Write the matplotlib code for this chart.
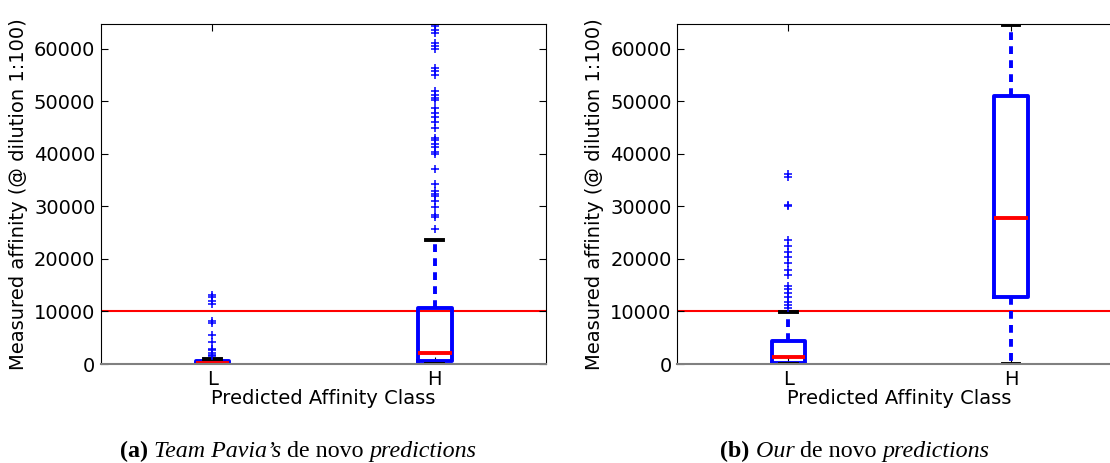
import matplotlib
matplotlib.use("Agg")
import matplotlib.pyplot as plt

# --- Data (measured affinity, dilution 1:100) ---
CLASSES = ["L", "H"]
THRESHOLD = 10000
Y_MAX = 64700

# (a) Team Pavia's predictions
pavia_med = [190, 2160]
pavia_q1 = [0, 570]
pavia_q3 = [510, 10670]
pavia_wlo = [0, 0]
pavia_whi = [1020, 23680]
pavia_fliers_L = [13200, 12760, 11940, 11490, 8130, 7810, 5460, 4190,
                  2920, 2600, 2160, 1780, 1460]
pavia_fliers_H = [64310, 63680, 63110, 61140, 60570, 60060, 56380, 55740,
                  54980, 52000, 51300, 50730, 50350, 48830, 47870, 47050,
                  46100, 45010, 43050, 42600, 41970, 41330, 40380, 40060,
                  37140, 34350, 32950, 32450, 31940, 31050, 29900, 28440,
                  28000, 25780]

# (b) our predictions
our_med = [1400, 27870]
our_q1 = [250, 12830]
our_q3 = [4320, 51050]
our_wlo = [0, 0]
our_whi = [9900, 64500]
our_fliers_L = [36250, 35620, 30220, 30030, 23550, 22410, 21330, 20380,
                19240, 17970, 16890, 14790, 14350, 13520, 12760, 11810,
                11170, 10730]
our_fliers_H = []

FS = 14


def make_stats(med, q1, q3, wlo, whi, fliers):
    stats = []
    for i in range(len(med)):
        stats.append(dict(med=med[i], q1=q1[i], q3=q3[i], whislo=wlo[i],
                          whishi=whi[i], fliers=fliers[i], label=CLASSES[i]))
    return stats


def draw_panel(ax, stats):
    ax.bxp(stats, positions=[1, 2], widths=0.15, showfliers=True,
           boxprops=dict(color="blue", linewidth=2.8),
           medianprops=dict(color="red", linewidth=2.8),
           whiskerprops=dict(color="blue", linewidth=2.8, linestyle=(0, (2.0, 1.6))),
           capprops=dict(color="black", linewidth=2.8),
           flierprops=dict(marker="+", markeredgecolor="blue", markersize=6,
                           markeredgewidth=1.1, linestyle="none"))
    ax.axhline(THRESHOLD, color="red", linewidth=1.5, zorder=1)
    ax.set_xlim(0.5, 2.5)
    ax.set_ylim(0, Y_MAX)
    ax.set_yticks(range(0, 60001, 10000))
    ax.set_xticks([1, 2])
    ax.set_xticklabels(CLASSES)
    ax.tick_params(direction="in", top=True, right=True, labelsize=FS,
                   length=5, pad=4)
    ax.spines["bottom"].set_color("gray")
    ax.spines["bottom"].set_linewidth(1.5)
    ax.set_xlabel("Predicted Affinity Class", fontsize=FS, labelpad=0)
    ax.set_ylabel("Measured affinity (@ dilution 1:100)", fontsize=FS, labelpad=4)


def caption(fig, xc, y, parts):
    # parts: list of (text, weight, style), laid out left to right and centred on xc
    texts = []
    for s, w, st in parts:
        t = fig.text(xc, y, s, fontsize=17.3, family="Liberation Serif",
                     weight=w, style=st, va="baseline", ha="left")
        texts.append(t)
    fig.canvas.draw()
    r = fig.canvas.get_renderer()
    inv = fig.transFigure.inverted()
    widths = [t.get_window_extent(r).width for t in texts]
    x0 = xc * fig.bbox.width - sum(widths) / 2
    for t, w in zip(texts, widths):
        t.set_x(inv.transform((x0, 0))[0])
        x0 += w


fig = plt.figure(figsize=(11.1, 4.63), dpi=100)
ax1 = fig.add_axes([0.091, 0.2138, 0.401, 0.734])
ax2 = fig.add_axes([0.610, 0.2138, 0.401, 0.734])

draw_panel(ax1, make_stats(pavia_med, pavia_q1, pavia_q3, pavia_wlo, pavia_whi,
                           [pavia_fliers_L, pavia_fliers_H]))
draw_panel(ax2, make_stats(our_med, our_q1, our_q3, our_wlo, our_whi,
                           [our_fliers_L, our_fliers_H]))

caption(fig, 298 / 1110, 1 - 457 / 463,
        [("(a)", "bold", "normal"), (" Team Pavia\u2019s", "normal", "italic"),
         (" de novo ", "normal", "normal"), ("predictions", "normal", "italic")])
caption(fig, 855 / 1110, 1 - 457 / 463,
        [("(b)", "bold", "normal"), (" Our", "normal", "italic"),
         (" de novo ", "normal", "normal"), ("predictions", "normal", "italic")])

fig.savefig("out.png", dpi=100)
